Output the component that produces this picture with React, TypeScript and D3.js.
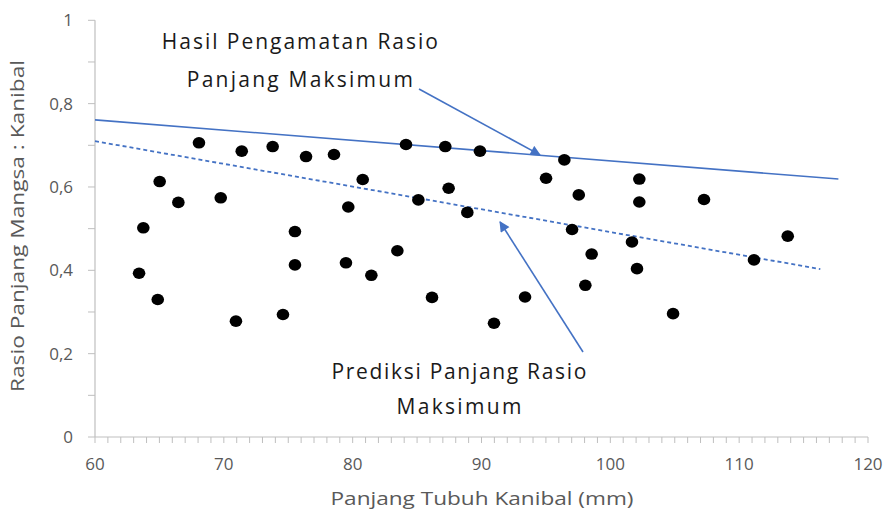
import * as d3 from "d3";

// body length of the cannibal (mm) and prey : cannibal length ratio
const bodyLength = [
  68.07, 71.39, 65.02, 66.47, 69.76, 63.75, 63.42, 64.87, 70.94,
  73.79, 76.38, 78.55, 80.78, 79.66, 75.52, 75.52, 79.48, 81.45, 74.59,
  84.14, 87.19, 89.88, 87.45, 85.1, 88.9, 83.47, 86.16, 90.97,
  96.43, 95.01, 97.55, 97.03, 102.25, 102.25, 101.68, 98.55, 102.07, 98.06, 93.38,
  107.27, 113.77, 111.15, 104.87,
];
const lengthRatio = [
  0.706, 0.686, 0.613, 0.563, 0.574, 0.502, 0.393, 0.33, 0.278,
  0.697, 0.673, 0.678, 0.618, 0.552, 0.493, 0.413, 0.418, 0.388, 0.294,
  0.702, 0.697, 0.686, 0.597, 0.569, 0.539, 0.447, 0.335, 0.273,
  0.665, 0.621, 0.581, 0.498, 0.619, 0.564, 0.468, 0.439, 0.404, 0.364, 0.336,
  0.57, 0.482, 0.425, 0.296,
];

// trend lines: observed maximum and predicted maximum
const observedMax: [number, number][] = [[60, 0.761], [117.7, 0.619]];
const predictedMax: [number, number][] = [[60, 0.71], [116.3, 0.403]];

const xTicks = [60, 70, 80, 90, 100, 110, 120];
const yTicks = [0, 0.2, 0.4, 0.6, 0.8, 1];

const annotations = [
  { lines: ["Hasil Pengamatan Rasio", "Panjang Maksimum"], x: 75.9, y: [0.948, 0.857], widths: [276, 226] },
  { lines: ["Prediksi Panjang Rasio", "Maksimum"], x: 88.25, y: [0.158, 0.072], widths: [255, 125] },
];
const arrows: [number, number, number, number][] = [
  [85.15, 0.835, 94.54, 0.677],
  [97.88, 0.204, 91.44, 0.516],
];

const blue = "#4472C4";
const axisGrey = "#bfbfbf";
const labelGrey = "#595959";
const font = "'Open Sans', 'DejaVu Sans', sans-serif";

export default function App() {
  const W = 894;
  const H = 517;
  const x = d3.scaleLinear().domain([60, 120]).range([95, 868]);
  const y = d3.scaleLinear().domain([0, 1]).range([437, 20.3]);
  const line = d3.line<[number, number]>().x((d) => x(d[0])).y((d) => y(d[1]));

  const minorX = d3.range(60, 121, 1);
  const minorY = d3.range(0, 1.0001, 0.1);
  const fmt = (v: number) => (v === 0 || v === 1 ? String(v) : v.toFixed(1).replace(".", ","));

  return (
    <svg
      width={W}
      height={H}
      style={{ position: "absolute", left: 0, top: 0, background: "#fff" }}
      fontFamily={font}
    >
      <defs>
        <marker id="head" viewBox="0 0 10 10" refX="9" refY="5" markerWidth="7.5" markerHeight="6.5" orient="auto">
          <path d="M0,0 L10,5 L0,10 z" fill={blue} />
        </marker>
      </defs>

      {/* axes */}
      <line x1={x(60)} x2={x(60)} y1={y(0)} y2={y(1)} stroke={axisGrey} strokeWidth={1.2} />
      <line x1={x(60)} x2={x(120)} y1={y(0)} y2={y(0)} stroke={axisGrey} strokeWidth={1.2} />
      {minorX.map((v) => (
        <line key={"tx" + v} x1={x(v)} x2={x(v)} y1={y(0)} y2={y(0) + 6} stroke={axisGrey} strokeWidth={1} />
      ))}
      {minorY.map((v) => (
        <line key={"ty" + v} x1={x(60) - 7} x2={x(60)} y1={y(v)} y2={y(v)} stroke={axisGrey} strokeWidth={1} />
      ))}
      {xTicks.map((v) => (
        <text key={"lx" + v} x={x(v)} y={y(0) + 33} textAnchor="middle" fontSize={17} fill={labelGrey}>
          {v}
        </text>
      ))}
      {yTicks.map((v) => (
        <text key={"ly" + v} x={73} y={y(v)} dy="0.35em" textAnchor="end" fontSize={17} fill={labelGrey}>
          {fmt(v)}
        </text>
      ))}
      <text x={482} y={505} textAnchor="middle" fontSize={18} fill={labelGrey} textLength={303} lengthAdjust="spacingAndGlyphs">
        Panjang Tubuh Kanibal (mm)
      </text>
      <text
        transform="translate(24,226) rotate(-90)"
        textAnchor="middle"
        fontSize={18}
        fill={labelGrey}
        textLength={332}
        lengthAdjust="spacingAndGlyphs"
      >
        Rasio Panjang Mangsa : Kanibal
      </text>

      {/* trend lines */}
      <path d={line(observedMax) ?? ""} stroke={blue} strokeWidth={1.6} fill="none" />
      <path d={line(predictedMax) ?? ""} stroke={blue} strokeWidth={1.8} strokeDasharray="4,3" fill="none" />

      {/* points */}
      {bodyLength.map((v, i) => (
        <ellipse key={i} cx={x(v)} cy={y(lengthRatio[i])} rx={6.3} ry={5.8} fill="#000" />
      ))}

      {/* annotations */}
      {arrows.map((a, i) => (
        <line
          key={"ar" + i}
          x1={x(a[0])}
          y1={y(a[1])}
          x2={x(a[2])}
          y2={y(a[3])}
          stroke={blue}
          strokeWidth={1.6}
          markerEnd="url(#head)"
        />
      ))}
      {annotations.map((a, i) =>
        a.lines.map((t, j) => (
          <text
            key={"an" + i + j}
            x={x(a.x)}
            y={y(a.y[j])}
            dy="0.35em"
            textAnchor="middle"
            fontSize={21}
            fill="#1a1a1a"
            textLength={a.widths[j]}
            lengthAdjust="spacing"
          >
            {t}
          </text>
        ))
      )}
    </svg>
  );
}
